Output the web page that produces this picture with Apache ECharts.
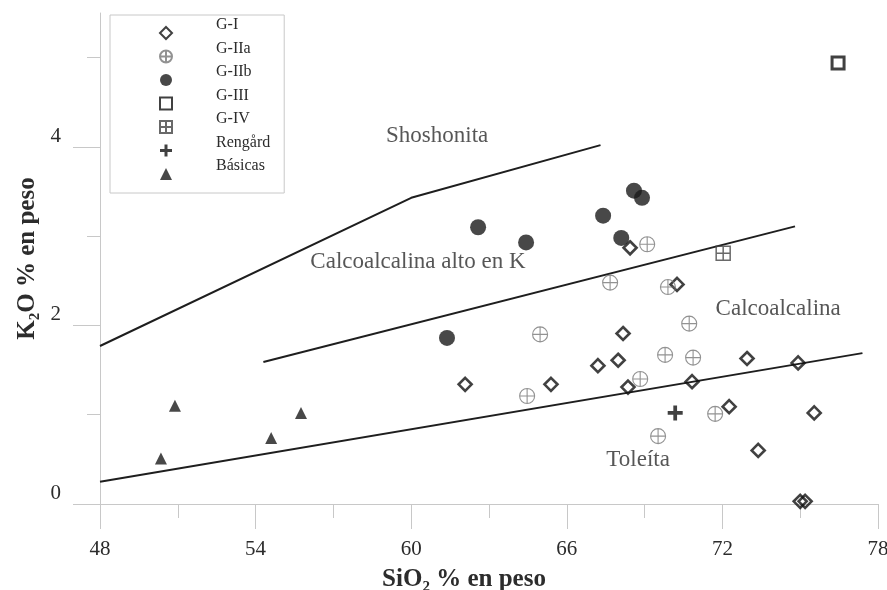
<!DOCTYPE html>
<html><head><meta charset="utf-8">
<script src="https://cdn.jsdelivr.net/npm/echarts@6/dist/echarts.min.js"></script>
<style>html,body{margin:0;padding:0;background:#fff}#c{width:887px;height:590px}</style>
</head><body><div id="c"></div>
<script>
// ---- data ----
const xMin = 48, xMax = 78, xStep = 6;
const yMin = 0, yMax = 5.5;
const yLabelTicks = [0, 2, 4];
const yMinorTicks = [1, 3, 5];

const seriesNames = ['G-I', 'G-IIa', 'G-IIb', 'G-III', 'G-IV', 'Rengård', 'Básicas'];

const gI = [[62.08,1.34],[65.39,1.34],[67.2,1.55],[67.98,1.61],[68.17,1.91],[68.36,1.31],[68.44,2.87],[70.25,2.46],[70.83,1.37],[72.26,1.09],[72.95,1.63],[73.38,0.60],[74.92,1.58],[75.54,1.02],[75.0,0.03],[75.19,0.03]];
const gIIa = [[64.47,1.21],[64.97,1.90],[67.67,2.48],[68.83,1.40],[69.1,2.91],[69.52,0.76],[69.79,1.67],[69.9,2.43],[70.72,2.02],[70.87,1.64],[71.72,1.01]];
const gIIb = [[61.38,1.86],[62.58,3.10],[64.43,2.93],[67.40,3.23],[68.1,2.98],[68.59,3.51],[68.90,3.43]];
const gIII = [[76.46,4.94]];
const gIV = [[72.03,2.81]];
const rengard = [[70.18,1.02]];
const basicas = [[50.35,0.51],[50.89,1.10],[54.6,0.74],[55.75,1.02]];

const shoshoniteLine = [[48,1.77],[60,3.43],[67.3,4.02]];
const highKLine = [[54.3,1.59],[74.8,3.11]];
const tholeiiteLine = [[48,0.25],[77.4,1.69]];

const regionNames = ['Shoshonita', 'Calcoalcalina alto en K', 'Calcoalcalina', 'Toleíta'];
const regionPos = [[61.0,4.12],[60.26,2.71],[74.15,2.19],[68.75,0.49]];

// ---- chart ----
const FONT = '"Liberation Serif", "DejaVu Serif", serif';
const TXT = '#2c2c2c';
const AX = '#c8c8c8';
const chart = echarts.init(document.getElementById('c'), null, {renderer: 'canvas'});

const circlePlus = 'path://M0,10 A10,10 0 1 1 20,10 A10,10 0 1 1 0,10 Z M10,0 L10,20 M0,10 L20,10';
const squarePlus = 'path://M0,0 L20,0 L20,20 L0,20 Z M10,0 L10,20 M0,10 L20,10';
const boldPlus = 'path://M7.5,0 H12.5 V7.5 H20 V12.5 H12.5 V20 H7.5 V12.5 H0 V7.5 H7.5 Z';

function lineSeries(data) {
  return {type: 'line', data: data, symbol: 'none', silent: true, z: 1,
    lineStyle: {color: '#1e1e1e', width: 2}};
}

const option = {
  animation: false,
  backgroundColor: '#fff',
  grid: {left: 100, right: 9, top: 13, bottom: 86, outerBoundsMode: 'none', containLabel: false},
  legend: {
    data: seriesNames,
    orient: 'vertical', left: 110, top: 15,
    itemWidth: 12, itemHeight: 12, itemGap: -8.5,
    padding: [2, 14, 3, 49],
    borderColor: '#c8c8c8', borderWidth: 1,
    selectedMode: false,
    formatter: name => name + '\n ',
    textStyle: {fontFamily: FONT, fontSize: 16, lineHeight: 16, color: TXT,
      padding: [0, 0, 0, 39], backgroundColor: 'rgba(255,255,255,0)'}
  },
  xAxis: {
    type: 'value', min: xMin, max: xMax, interval: xStep,
    axisLine: {show: true, lineStyle: {color: AX, width: 1}},
    axisTick: {show: true, length: 25, lineStyle: {color: AX}},
    minorTick: {show: true, splitNumber: 2, length: 14, lineStyle: {color: AX}},
    splitLine: {show: false},
    axisLabel: {fontFamily: FONT, fontSize: 21, color: TXT, margin: 35},
    name: 'SiO₂ % en peso', nameLocation: 'middle', nameGap: 63,
    nameTextStyle: {fontFamily: FONT, fontSize: 25, fontWeight: 'bold', color: TXT, padding: [0, 50, 0, 0]}
  },
  yAxis: [{
    type: 'value', min: yMin, max: yMax, interval: 1, position: 'left',
    axisLine: {show: true, onZero: false, lineStyle: {color: AX, width: 1}},
    axisTick: {show: true, length: 27, customValues: yLabelTicks, lineStyle: {color: AX}},
    splitLine: {show: false},
    axisLabel: {fontFamily: FONT, fontSize: 21, color: TXT, margin: 39, customValues: yLabelTicks, verticalAlign: 'bottom'},
    name: 'K₂O % en peso', nameLocation: 'middle', nameGap: 59,
    nameTextStyle: {fontFamily: FONT, fontSize: 25, fontWeight: 'bold', color: TXT}
  }, {
    type: 'value', min: yMin, max: yMax, interval: 1, position: 'left',
    axisLine: {show: false},
    axisTick: {show: true, length: 13, customValues: yMinorTicks, lineStyle: {color: AX}},
    axisLabel: {show: false},
    splitLine: {show: false}
  }],
  series: [
    lineSeries(shoshoniteLine),
    lineSeries(highKLine),
    lineSeries(tholeiiteLine),
    {type: 'scatter', name: 'G-IIb', data: gIIb, symbol: 'circle', symbolSize: 16, z: 2,
      itemStyle: {color: '#1a1a1a'}},
    {type: 'scatter', name: 'G-I', data: gI, symbol: 'diamond', symbolSize: 13, z: 3,
      itemStyle: {color: 'rgba(255,255,255,0)', borderColor: '#111', borderWidth: 2.6}},
    {type: 'scatter', name: 'G-IIa', data: gIIa, symbol: circlePlus, symbolSize: 15, z: 3,
      itemStyle: {color: 'rgba(255,255,255,0)', borderColor: '#777', borderWidth: 1.1}},
    {type: 'scatter', name: 'G-III', data: gIII, symbol: 'rect', symbolSize: 12, z: 3,
      itemStyle: {color: '#fff', borderColor: '#111', borderWidth: 3}},
    {type: 'scatter', name: 'G-IV', data: gIV, symbol: squarePlus, symbolSize: 14, z: 3,
      itemStyle: {color: 'rgba(255,255,255,0)', borderColor: '#444', borderWidth: 1.5}},
    {type: 'scatter', name: 'Rengård', data: rengard, symbol: boldPlus, symbolSize: 15, z: 3,
      itemStyle: {color: '#111'}},
    {type: 'scatter', name: 'Básicas', data: basicas, symbol: 'triangle', symbolSize: 12, z: 3,
      itemStyle: {color: '#1a1a1a'}},
    {type: 'scatter', name: 'regiones', silent: true, symbolSize: 0, z: 4,
      data: regionNames.map((n, i) => ({name: n, value: regionPos[i]})),
      label: {show: true, position: 'inside', formatter: '{b}', fontFamily: FONT, fontSize: 23, color: TXT}}
  ]
};
chart.setOption(option);
</script>
</body></html>
